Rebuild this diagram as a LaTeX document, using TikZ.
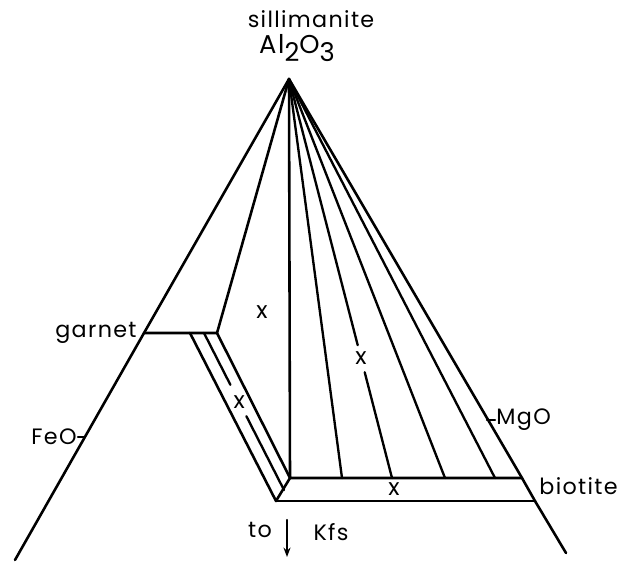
\documentclass[tikz,border=0pt]{standalone}
\usepackage{fontspec}
\setmainfont[LetterSpace=6]{Poppins}
\usetikzlibrary{arrows.meta, calc}

\begin{document}
\begin{tikzpicture}[x=0.03cm, y=-0.03cm, >={Stealth[length=8pt, width=6pt]},
        edge/.style={line width=2.2pt, line cap=round, line join=round},
        tie/.style={line width=2pt, line cap=round},
        lbltext/.style={font=\fontsize{19}{22}\selectfont, inner sep=1pt},
        xmark/.style={font=\fontsize{20}{22}\selectfont, inner sep=0pt}
    ]
        \useasboundingbox (0,0) rectangle (621,561);

        % Corners of the triangle
        \coordinate (apex) at (289,79);
        \coordinate (feo) at (15,560);
        \coordinate (mgo) at (566,553);
        \coordinate (grtL) at (144,333);
        \coordinate (grtR) at (217,333);
        \coordinate (bioU) at (522,478);
        \coordinate (bioL) at (535,501);
        \coordinate (cnrU) at (290,478);
        \coordinate (cnrL) at (276,501);

        % Garnet band
        \coordinate (b1s) at (190,333);
        \coordinate (b2s) at (204,333);
        \coordinate (b2e) at (284,490);

        % Biotite ends of the tie lines
        \coordinate (t1) at (342,478);
        \coordinate (t2) at (392,478);
        \coordinate (t3) at (445,478);
        \coordinate (t4) at (495,478);

        % Ticks
        \coordinate (feoT) at (85,437);
        \coordinate (feoE) at (78,437);
        \coordinate (mgoT) at (487,420);
        \coordinate (mgoE) at (495,420);

        % Outline
        \draw[edge] (feo) -- (grtL) -- (apex) -- (bioU) -- (bioL) -- (mgo);
        \draw[edge] (grtL) -- (grtR) -- (apex);
        \draw[edge] (apex) -- (cnrU) -- (bioU);
        \draw[edge] (cnrL) -- (bioL);
        \draw[edge] (b1s) -- (cnrL) -- (cnrU) -- (grtR);

        % Middle garnet line, broken at the x
        \draw[tie] (b2s) -- ($(b2s)!0.33!(b2e)$);
        \draw[tie] ($(b2s)!0.53!(b2e)$) -- (b2e);
        \node[xmark] (x2) at ($(b2s)!0.44!(b2e)$) {x};

        % Tie lines to biotite
        \draw[tie] (apex) -- (t1);
        \draw[tie] (apex) -- ($(apex)!0.667!(t2)$);
        \draw[tie] ($(apex)!0.735!(t2)$) -- (t2);
        \node[xmark] (x3) at ($(apex)!0.70!(t2)$) {x};
        \draw[tie] (apex) -- (t3);
        \draw[tie] (apex) -- (t4);

        \node[xmark] (x1) at (262,312) {x};
        \node[xmark] (x4) at (394,489) {x};

        % Ticks
        \draw[tie] (feoT) -- (feoE);
        \draw[tie] (mgoT) -- (mgoE);

        % Labels
        \node[lbltext] (sill) at (311,19) {sillimanite};
        \node[lbltext, font=\fontsize{22}{24}\selectfont] (alo) at (297,48) {Al\raisebox{-0.55ex}{2}O\raisebox{-0.55ex}{3}};
        \node[lbltext, anchor=east] (grt) at (138,333) {garnet};
        \node[lbltext, anchor=east] (feolbl) at (feoE) {FeO};
        \node[lbltext, anchor=west] (mgolbl) at (mgoE) {MgO};
        \node[lbltext, anchor=west] (bio) at (538,486) {biotite};
        \node[lbltext] (to) at (260,530) {to};
        \node[lbltext] (kfs) at (331,532) {Kfs};
        \coordinate (kfsA) at (287,520);
        \coordinate (kfsB) at (287,557);
        \draw[->, tie] (kfsA) -- (kfsB);
    \end{tikzpicture}
\end{document}
